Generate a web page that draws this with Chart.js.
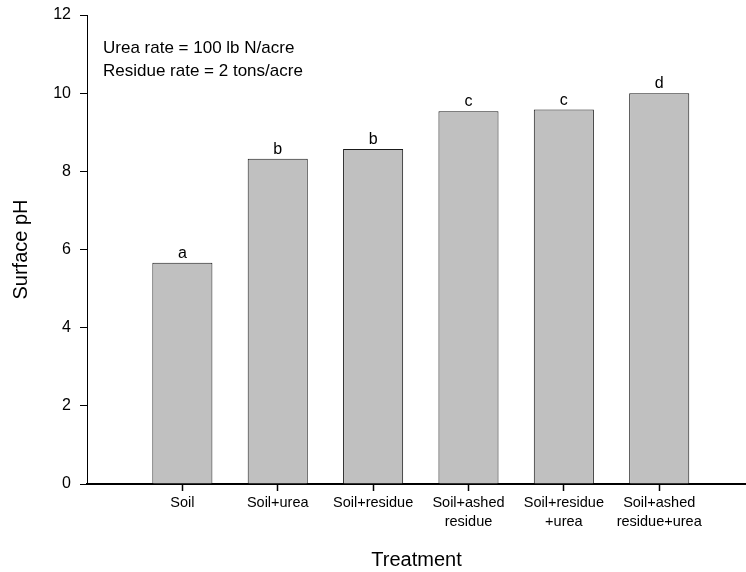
<!DOCTYPE html>
<html>
<head>
<meta charset="utf-8">
<script src="https://cdn.jsdelivr.net/npm/chart.js@4"></script>
<style>
  html, body { margin: 0; padding: 0; background: #fff; }
  #wrap { width: 746px; height: 572px; }
</style>
</head>
<body>
<div id="wrap"><canvas id="c" width="746" height="572"></canvas></div>
<script>
// Treatments (multi-line tick labels), measured surface pH and significance letters
const treatments = [
  ['Soil'],
  ['Soil+urea'],
  ['Soil+residue'],
  ['Soil+ashed', 'residue'],
  ['Soil+residue', '+urea'],
  ['Soil+ashed', 'residue+urea']
];
const surfacePH = [5.66, 8.32, 8.57, 9.54, 9.58, 10.0];
const groupLetters = ['a', 'b', 'b', 'c', 'c', 'd'];
const yTicks = [0, 2, 4, 6, 8, 10, 12];
const notes = ['Urea rate = 100 lb N/acre', 'Residue rate = 2 tons/acre'];

const FONT = 'Liberation Sans, Arial, Helvetica, sans-serif';

// Letters above each bar plus the rate notes in the upper-left corner
const labelPlugin = {
  id: 'labels',
  afterDatasetsDraw(chart) {
    const ctx = chart.ctx;
    const meta = chart.getDatasetMeta(0);
    ctx.save();
    ctx.fillStyle = '#000';
    ctx.font = '16px ' + FONT;
    ctx.textAlign = 'center';
    ctx.textBaseline = 'alphabetic';
    meta.data.forEach((bar, i) => {
      ctx.fillText(groupLetters[i], bar.x, bar.y - 5);
    });
    const area = chart.chartArea;
    ctx.font = '17px ' + FONT;
    ctx.textAlign = 'left';
    notes.forEach((t, i) => {
      ctx.fillText(t, area.left + 16, area.top + 38 + i * 22.6);
    });
    ctx.restore();
  }
};

new Chart(document.getElementById('c'), {
  type: 'bar',
  data: {
    datasets: [{
      data: surfacePH.map((v, i) => ({ x: i, y: v })),
      backgroundColor: '#c0c0c0',
      borderColor: '#1a1a1a',
      borderWidth: 1,
      borderSkipped: 'bottom',
      barPercentage: 0.63,
      categoryPercentage: 1
    }]
  },
  options: {
    responsive: false,
    devicePixelRatio: 1,
    animation: false,
    layout: { padding: { top: 15, right: 0, bottom: 0, left: 0 } },
    plugins: { legend: { display: false }, tooltip: { enabled: false } },
    scales: {
      x: {
        type: 'linear',
        offset: false,
        min: -1,
        max: 5.91,
        afterBuildTicks: (scale) => { scale.ticks = treatments.map((_, i) => ({ value: i })); },
        afterFit: (scale) => { scale.height = 88; },
        border: { display: true, color: '#000', width: 2 },
        grid: { offset: false, drawOnChartArea: false, drawTicks: true, tickLength: 7, tickColor: '#000', tickWidth: 1.5 },
        ticks: {
          autoSkip: false,
          maxRotation: 0,
          minRotation: 0,
          padding: 2,
          color: '#000',
          font: { family: FONT, size: 14.5, lineHeight: 1.33 },
          callback: (v) => treatments[v]
        },
        title: {
          display: true,
          text: 'Treatment',
          color: '#000',
          font: { family: FONT, size: 20 },
          padding: { top: 0, bottom: 0 }
        }
      },
      y: {
        min: 0,
        max: 12,
        afterBuildTicks: (scale) => { scale.ticks = yTicks.map(v => ({ value: v })); },
        afterFit: (scale) => { scale.width = 87; scale.paddingTop = 0; },
        border: { display: true, color: '#000', width: 1 },
        grid: { drawOnChartArea: false, drawTicks: true, tickLength: 7, color: '#000', tickWidth: 1 },
        ticks: {
          padding: 9,
          color: '#000',
          font: { family: FONT, size: 16 }
        },
        title: {
          display: true,
          text: 'Surface pH',
          color: '#000',
          font: { family: FONT, size: 20 },
          padding: { top: 9, bottom: 0 }
        }
      }
    }
  },
  plugins: [labelPlugin]
});
</script>
</body>
</html>
